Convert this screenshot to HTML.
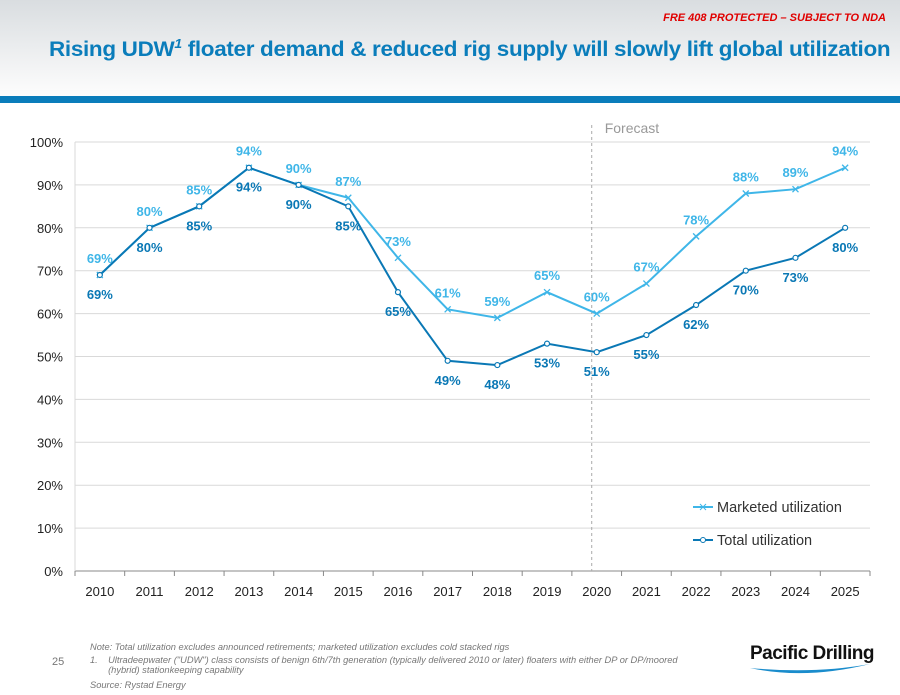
<!DOCTYPE html>
<html><head><meta charset="utf-8"><style>
body{margin:0;width:900px;height:695px;overflow:hidden;font-family:"Liberation Sans",sans-serif;background:#fff;position:relative}
#hdr{position:absolute;left:0;top:0;width:900px;height:96px;background:linear-gradient(#d9dde0,#fdfdfd)}
#bar{position:absolute;left:0;top:96px;width:900px;height:7px;background:#0a7dbb}
#nda{position:absolute;right:14px;top:12px;color:#e00000;font-size:11px;font-weight:bold;font-style:italic}
#title{position:absolute;left:49px;top:36px;color:#0a7dbb;font-size:21px;font-weight:bold;letter-spacing:-0.3px;white-space:nowrap;transform:scaleX(1.07);transform-origin:left top}
.note{position:absolute;left:90px;font-size:9.3px;font-style:italic;color:#777;white-space:nowrap}
</style></head><body>
<div id="hdr"></div>
<div id="bar"></div>
<div id="nda">FRE 408 PROTECTED – SUBJECT TO NDA</div>
<div id="title">Rising UDW<sup style="font-size:13px;font-style:italic">1</sup> floater demand &amp; reduced rig supply will slowly lift global utilization</div>
<svg id="chart" width="900" height="695" style="position:absolute;left:0;top:0"></svg>
<div class="note" style="top:642px">Note: Total utilization excludes announced retirements; marketed utilization excludes cold stacked rigs</div>
<div class="note" style="top:655px">1.&nbsp;&nbsp;&nbsp;&nbsp;Ultradeepwater ("UDW") class consists of benign 6th/7th generation (typically delivered 2010 or later) floaters with either DP or DP/moored<br>&nbsp;&nbsp;&nbsp;&nbsp;&nbsp;&nbsp;&nbsp;(hybrid) stationkeeping capability</div>
<div class="note" style="top:680px">Source: Rystad Energy</div>
<div style="position:absolute;left:52px;top:656px;font-size:11px;color:#777">25</div>
<div style="position:absolute;left:750px;top:643px;font-size:19px;font-weight:bold;color:#111;letter-spacing:-0.5px">Pacific Drilling</div>
<svg style="position:absolute;left:745px;top:660px" width="130" height="20"><path d="M5 8 Q60 20 125 4 Q70 14 5 8Z" fill="#1a8ccc"/></svg>
<script>
const years=["2010","2011","2012","2013","2014","2015","2016","2017","2018","2019","2020","2021","2022","2023","2024","2025"];
const marketed=[69,80,85,94,90,87,73,61,59,65,60,67,78,88,89,94];
const total=[69,80,85,94,90,85,65,49,48,53,51,55,62,70,73,80];
const yTicks=[0,10,20,30,40,50,60,70,80,90,100];
const svg=document.getElementById('chart');const NS='http://www.w3.org/2000/svg';
const x0=75,x1=870,y0=571,y1=142;
const step=(x1-x0)/years.length;
const X=i=>x0+step*(i+0.5);
const Y=v=>y0-(v/100)*(y0-y1);
function el(t,a,txt){const e=document.createElementNS(NS,t);for(const k in a)e.setAttribute(k,a[k]);if(txt!==undefined)e.textContent=txt;svg.appendChild(e);return e;}
yTicks.forEach(t=>{
 const g=el('line',{x1:x0,x2:x1,y1:Y(t),y2:Y(t),stroke:t?'#d9d9d9':'#888','stroke-width':1});
 
 
 const l=el('text',{x:x0-12,y:Y(t)+5,'text-anchor':'end','font-size':13,fill:'#222'},t+'%');
 
 
});
el('line',{x1:x0,x2:x0,y1:y1,y2:y0,stroke:'#d9d9d9'});
years.forEach((yr,i)=>{
 el('line',{x1:x0+step*i,x2:x0+step*i,y1:y0,y2:y0+5,stroke:'#888'});
 const l=el('text',{x:X(i),y:y0+25,'text-anchor':'middle','font-size':13,fill:'#222'},yr);
 
 
});
el('line',{x1:x1,x2:x1,y1:y0,y2:y0+5,stroke:'#888'});
const fl=el('line',{x1:X(10)-5,x2:X(10)-5,y1:125,y2:y0,stroke:'#aaa','stroke-dasharray':'3,3'});


const ft=el('text',{x:X(10)+8,y:133,'font-size':14,fill:'#999'},'Forecast');


function series(vals,color,name,marker,dy){
 const p=el('polyline',{points:vals.map((v,i)=>X(i)+','+Y(v)).join(' '),fill:'none',stroke:color,'stroke-width':2});
 
 
 vals.forEach((v,i)=>{
  const cx=X(i),cy=Y(v);
  if(marker==='x'){el('path',{d:`M${cx-3} ${cy-3}L${cx+3} ${cy+3}M${cx-3} ${cy+3}L${cx+3} ${cy-3}`,stroke:color,'stroke-width':1.3});}
  else{el('circle',{cx:cx,cy:cy,r:2.5,fill:'#fff',stroke:color,'stroke-width':1.2});}
  const t=el('text',{x:cx,y:cy+dy,'text-anchor':'middle','font-size':13,'font-weight':'bold',fill:color},v+'%');
  
  
 });
}
series(marketed,'#3fb6e8','marketed','x',-12);
series(total,'#0a78b5','total','o',24);
[['Marketed utilization','#3fb6e8','x',507],['Total utilization','#0a78b5','o',540]].forEach(([n,c,m,y])=>{
 el('line',{x1:693,x2:713,y1:y,y2:y,stroke:c,'stroke-width':2});
 if(m==='x')el('path',{d:`M700 ${y-3}L706 ${y+3}M700 ${y+3}L706 ${y-3}`,stroke:c});else el('circle',{cx:703,cy:y,r:2.5,fill:'#fff',stroke:c});
 const t=el('text',{x:717,y:y+5,'font-size':14.5,fill:'#333'},n);
 
 
});
</script>
</body></html>
